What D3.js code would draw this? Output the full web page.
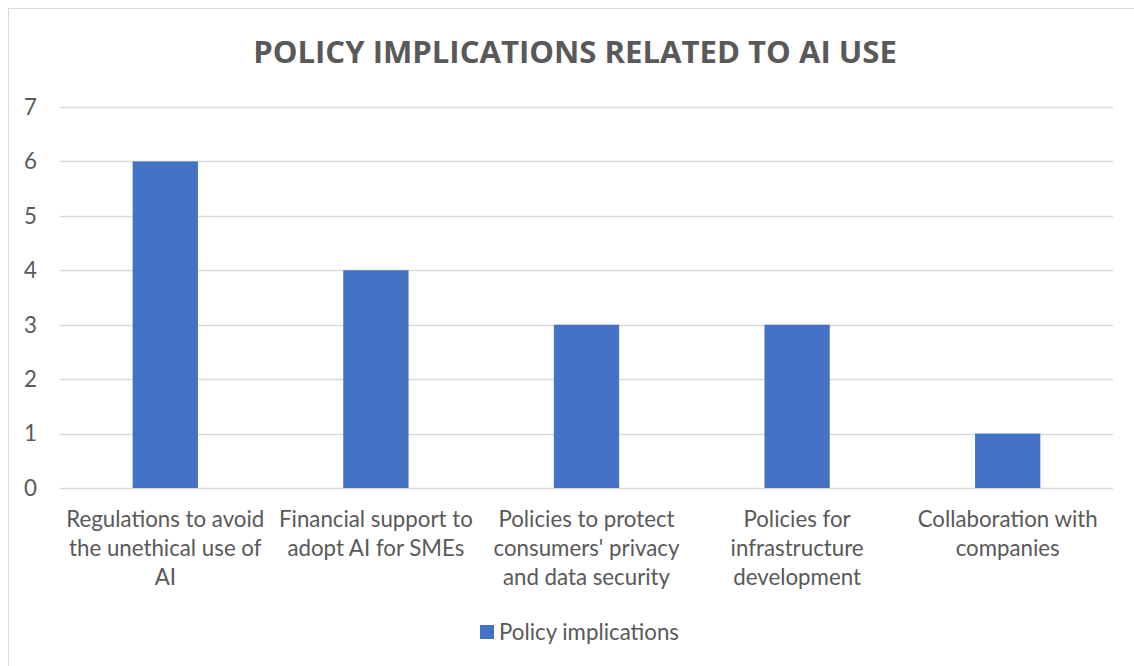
<!DOCTYPE html>
<html><head><meta charset="utf-8">
<script src="https://cdn.jsdelivr.net/npm/d3@7"></script>
<style>body{margin:0;background:#fff}svg{display:block}</style>
</head><body>
<svg id="c" width="1134" height="666"></svg>
<script>
const categories = [
  ["Regulations to avoid", "the unethical use of", "AI"],
  ["Financial support to", "adopt AI for SMEs"],
  ["Policies to protect", "consumers' privacy", "and data security"],
  ["Policies for", "infrastructure", "development"],
  ["Collaboration with", "companies"]
];
const values = [6, 4, 3, 3, 1];
const yTicks = [0, 1, 2, 3, 4, 5, 6, 7];
const title = "POLICY IMPLICATIONS RELATED TO AI USE";
const seriesName = "Policy implications";

(function() {
const svg = d3.select("#c");
const font = "Lato, 'Open Sans', sans-serif";
const tfont = "'Open Sans', sans-serif";
const grey = "#595959";
const pLeft = 60, pRight = 1113, pTop = 107, pBottom = 488;

// fit label font size to reference width of "Regulations to avoid" (~198px)
const probe = svg.append("text").style("font-family", font).style("font-size", "20px").text(categories[0][0]);
const fs = 20 * 198 / probe.node().getComputedTextLength();
probe.remove();

// chart border
svg.append("rect").attr("x", 8.5).attr("y", 8.5).attr("width", 1140).attr("height", 700)
  .attr("fill", "none").attr("stroke", "#d9d9d9").attr("stroke-width", 1);

const x = d3.scaleBand().domain(d3.range(categories.length)).range([pLeft, pRight]).paddingInner(0.69).paddingOuter(0.345);
const y = d3.scaleLinear().domain([0, 7]).range([pBottom, pTop]);

// gridlines
svg.append("g").selectAll("line").data(yTicks).join("line")
  .attr("x1", pLeft).attr("x2", pRight)
  .attr("y1", d => Math.round(y(d)) + 0.5).attr("y2", d => Math.round(y(d)) + 0.5)
  .attr("stroke", "#d9d9d9").attr("stroke-width", 1.3);

// y labels
svg.append("g").selectAll("text").data(yTicks).join("text")
  .attr("x", 37).attr("y", d => y(d)).attr("dy", "0.35em")
  .attr("text-anchor", "end").attr("fill", grey)
  .style("font-family", font).style("font-size", fs + "px").text(d => d);

// bars
svg.append("g").selectAll("rect").data(values).join("rect")
  .attr("x", (d, i) => x(i)).attr("width", x.bandwidth())
  .attr("y", d => y(d)).attr("height", d => y(0) - y(d))
  .attr("fill", "#4472C4");

// category labels
const cat = svg.append("g").selectAll("text").data(categories).join("text")
  .attr("text-anchor", "middle").attr("fill", grey)
  .style("font-family", font).style("font-size", fs + "px");
cat.each(function(lines, i) {
  const t = d3.select(this);
  lines.forEach((ln, j) => {
    t.append("tspan").attr("x", x(i) + x.bandwidth() / 2).attr("y", 527 + j * 29).text(ln);
  });
});

// title
const tt = svg.append("text").attr("x", 575).attr("y", 63).attr("text-anchor", "middle")
  .attr("fill", grey).style("font-family", tfont).style("font-weight", "bold")
  .style("font-size", "30px").text(title);
const w = tt.node().getComputedTextLength();
tt.style("font-size", (30 * 644 / w) + "px");

// legend
svg.append("rect").attr("x", 480).attr("y", 625).attr("width", 14).attr("height", 14).attr("fill", "#4472C4");
svg.append("text").attr("x", 499).attr("y", 632).attr("dy", "0.35em").attr("fill", grey)
  .style("font-family", font).style("font-size", fs + "px").text(seriesName);
})();
</script>
</body></html>
